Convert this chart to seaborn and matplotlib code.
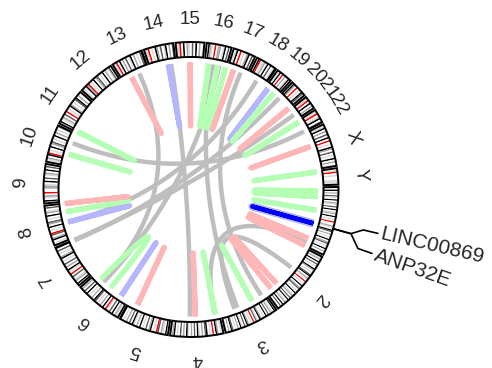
import numpy as np
import matplotlib
matplotlib.use("Agg")
import matplotlib.pyplot as plt
from matplotlib.patches import Wedge
import seaborn as sns

# chromosomes (Mb) and a rough band pattern typed off the ideogram
chroms = ["1", "2", "3", "4", "5", "6", "7", "8", "9", "10", "11", "12",
          "13", "14", "15", "16", "17", "18", "19", "20", "21", "22", "X", "Y"]
chrom_len = [249, 243, 198, 191, 181, 171, 159, 146, 141, 136, 135, 134,
             115, 107, 103, 90, 81, 78, 59, 63, 48, 51, 155, 59]
bands = [
    "wlkwgwdlwkwglwdwkwlgwkwlwrwwglwkdwgwlwkwgdwlwkwgwl",
    "wlgwkwdwlwkgwlwdkwglwrwlwkwgdwlwkwlgwdwkwlgwkwdwl",
    "wkwlgwdwkwlwgkwldwrwlwgkwdwlkwgwlwdkwgwl",
    "wlwgkwrwlwkdwgwlkwdwgwlkwgwdwlwkgw",
    "wkwlgwdrwlwkgwdwlwkwgwlkwdwgwlwk",
    "wlgwkwdwlrwkwgwlwdkwgwlwkwdwgl",
    "wkwglwdwrwlkwgwdwlwkgwlwdwk",
    "wlwkgwdrwlwkwgdwlwkwglwdw",
    "wkwlgwrwwgglwkwdwlgwkwdw",
    "wlgwkrwlwkwgdwlwkwgwlwd",
    "wkwlgwdwrwlwkgwlwdkwgwl",
    "wlwkgrwlwkwgdwlwkwgwldw",
    "llrwkwgwdwlkwgwlwdk",
    "llrwlwkgwdwlkwgwd",
    "llrwkwglwdwkwgwl",
    "wkglwrwggwlkwdw",
    "wlkwrwlwgkwdw",
    "wkrwlgwkwdwlk",
    "wlkwrwgwlkw",
    "wkgwrwlwkdw",
    "llrwkwgw",
    "llrwlkwd",
    "wlkwgwdwkwrwlwkgwdwlwkwgwl",
    "wlrwlwwlll",
]

# intra-chromosomal links (almost zero span), chrom, Mb, colour
intra_chr = ["13", "14", "15", "16", "16", "16", "17", "19", "19", "20", "22", "X",
             "Y", "1", "1", "1", "1", "1", "2", "2", "3", "4", "4", "5", "6", "8",
             "8", "8", "11", "10"]
intra_pos = [38, 76, 51, 17, 54, 88, 24, 11, 41, 62, 5, 58,
             3, 14, 38, 94, 215, 247, 187, 217, 60, 16, 98, 144, 32, 68,
             111, 145, 3, 47]
intra_col = ["pink", "blue", "pink", "green", "green", "green", "pink", "blue", "green",
             "pink", "green", "pink", "green", "green", "green", "green", "pink", "pink",
             "pink", "pink", "green", "green", "pink", "pink", "blue", "blue", "green",
             "pink", "green", "green"]

# one wider green intra link on chr6
hairpin = ("6", 87, "6", 141)

# inter-chromosomal links (gray)
gray_a_chr = ["13", "14", "16", "17", "20", "21", "22", "8", "2", "1", "16"]
gray_a_pos = [74, 88, 35, 56, 5, 26, 50, 68, 98, 228, 62]
gray_b_chr = ["6", "4", "3", "3", "7", "7", "10", "18", "3", "4", "6"]
gray_b_pos = [130, 121, 127, 16, 155, 158, 96, 40, 140, 20, 124]

# highlighted link and its genes
hl_chr, hl_pos = "1", 150
gene_names = ["LINC00869", "ANP32E"]
gene_pos = [149.8, 150.2]

colors = {"pink": "#FFB6B6", "green": "#B4FFB4", "blue": "#B6B6FF", "gray": "#BEBEBE"}

sns.set_theme(style="white")
plt.rcParams["font.family"] = ["Liberation Sans", "DejaVu Sans"]

R_OUT, R_IN, R_LINK = 147.5, 132.5, 127.0
start_deg, gap_deg = 1.0, 0.88
scale = (360 - len(chroms) * gap_deg) / sum(chrom_len)
cum = np.concatenate([[0], np.cumsum(chrom_len)[:-1]])
offset = {c: cum[i] * scale + i * gap_deg for i, c in enumerate(chroms)}


def ang(c, pos):
    return start_deg - (offset[c] + pos * scale)


def xy(a, r):
    t = np.deg2rad(a)
    return r * np.cos(t), r * np.sin(t)


def bezier(a1, a2, r=R_LINK, n=80):
    t = np.linspace(0, 1, n)[:, None]
    p0 = np.array(xy(a1, r))
    p2 = np.array(xy(a2, r))
    pts = (1 - t) ** 2 * p0 + t ** 2 * p2
    return pts[:, 0], pts[:, 1]


fig = plt.figure(figsize=(4.92, 3.68), dpi=100)
ax = fig.add_axes([0, 0, 1, 1])
ax.set_xlim(-191, 301)
ax.set_ylim(-178.5, 189.5)
ax.set_aspect("equal")
ax.axis("off")

# ideogram
stain = {"w": "#FFFFFF", "l": "#D9D9D9", "g": "#A6A6A6", "d": "#595959", "k": "#000000", "r": "#FF0000"}
for c, L, b in zip(chroms, chrom_len, bands):
    step = L / len(b)
    for j, s in enumerate(b):
        a1 = ang(c, j * step)
        a2 = ang(c, (j + 1) * step)
        ax.add_patch(Wedge((0, 0), R_OUT, a2, a1, width=R_OUT - R_IN,
                           facecolor=stain[s], edgecolor="none", lw=0))
    ax.add_patch(Wedge((0, 0), R_OUT, ang(c, L), ang(c, 0), width=R_OUT - R_IN,
                       fill=False, edgecolor="black", lw=1.4))
    if c != "1":
        m = ang(c, L / 2)
        x, y = xy(m, 170)
        ax.text(x, y, c, rotation=m - 90, ha="center", va="center",
                rotation_mode="anchor", fontsize=13.5)

# links
for ca, pa, cb, pb in zip(gray_a_chr, gray_a_pos, gray_b_chr, gray_b_pos):
    x, y = bezier(ang(ca, pa), ang(cb, pb))
    ax.plot(x, y, color=colors["gray"], lw=3.2, solid_capstyle="butt")

for c, p, col in zip(intra_chr, intra_pos, intra_col):
    x, y = bezier(ang(c, p), ang(c, p + 1))
    ax.plot(x, y, color=colors[col], lw=3.8, solid_capstyle="butt")

x, y = bezier(ang(hairpin[0], hairpin[1]), ang(hairpin[2], hairpin[3]))
ax.plot(x, y, color=colors["green"], lw=3.8, solid_capstyle="butt")

x, y = bezier(ang(hl_chr, hl_pos), ang(hl_chr, hl_pos + 1))
ax.plot(x, y, color=colors["blue"], lw=5.5, solid_capstyle="butt")
ax.plot(x, y, color="#0000FF", lw=3.2, solid_capstyle="butt")

# gene connectors and names
label_shift = [2.2, -4.0]
for name, p, sh in zip(gene_names, gene_pos, label_shift):
    a = ang("1", p)
    la = a + sh
    pts = [xy(a, R_OUT), xy(a, 166), xy(la, 177), xy(la, 192)]
    ax.plot([q[0] for q in pts], [q[1] for q in pts], color="black", lw=1.2)
    x, y = xy(la, 195)
    ax.text(x, y, name, rotation=la, ha="left", va="center",
            rotation_mode="anchor", fontsize=15)

fig.savefig("out.png", dpi=100)
